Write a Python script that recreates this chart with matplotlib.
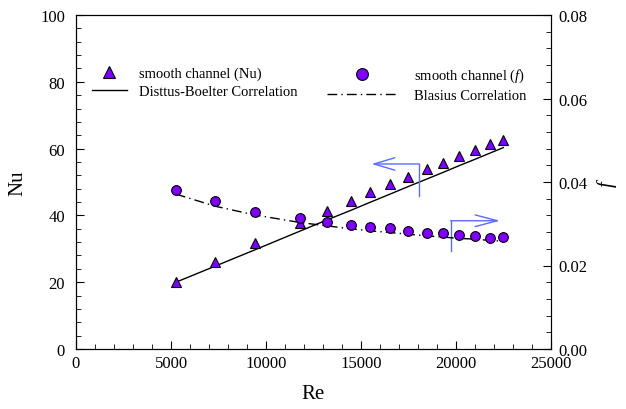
import matplotlib
matplotlib.use('Agg')
import matplotlib.pyplot as plt
from matplotlib.ticker import MultipleLocator, FormatStrFormatter
from matplotlib.lines import Line2D

plt.rcParams['font.family'] = ['Liberation Serif', 'DejaVu Serif']
plt.rcParams['mathtext.fontset'] = 'custom'
plt.rcParams['mathtext.rm'] = 'Liberation Serif'
plt.rcParams['mathtext.it'] = 'Liberation Serif:italic'

# data
re = [5260, 7320, 9420, 11790, 13190, 14460, 15470, 16540, 17470, 18470,
      19330, 20170, 21000, 21810, 22490]
nu_smooth = [20.1, 26.0, 31.7, 37.6, 41.3, 44.4, 46.9, 49.4, 51.6, 53.9,
             55.7, 57.7, 59.5, 61.3, 62.7]
f_smooth = [0.0382, 0.0354, 0.0329, 0.0314, 0.0305, 0.0298, 0.0293, 0.0289,
            0.0283, 0.0279, 0.0278, 0.0274, 0.0271, 0.0266, 0.0268]
nu_dittus = [20.0, 24.8, 29.7, 35.3, 38.6, 41.5, 43.9, 46.4, 48.6, 50.9,
             52.9, 54.9, 56.8, 58.7, 60.3]
f_blasius = [0.0371, 0.0342, 0.0321, 0.0303, 0.0295, 0.0288, 0.0283, 0.0279,
             0.0275, 0.0271, 0.0268, 0.0265, 0.0263, 0.0260, 0.0258]

purple = '#8000ff'
blue = '#5a6bff'

fig, ax = plt.subplots(figsize=(6.26, 4.10), dpi=100)
fig.subplots_adjust(left=76/626, right=551/626, top=1-16/410, bottom=1-350/410)
ax2 = ax.twinx()

ax.plot(re, nu_dittus, color='black', lw=1.0)
ax.plot(re, nu_smooth, ls='none', marker='^', ms=7, mfc=purple, mec='black', mew=0.8)
ax2.plot(re, f_blasius, color='black', lw=1.0, dashes=[7, 3, 1, 3])
ax2.plot(re, f_smooth, ls='none', marker='o', ms=7, mfc=purple, mec='black', mew=0.8)

ax.set_xlim(0, 25000)
ax.set_ylim(0, 100)
ax2.set_ylim(0, 0.08)

ax.xaxis.set_major_locator(MultipleLocator(5000))
ax.xaxis.set_minor_locator(MultipleLocator(1000))
ax.yaxis.set_major_locator(MultipleLocator(20))
ax.yaxis.set_minor_locator(MultipleLocator(4))
ax2.yaxis.set_major_locator(MultipleLocator(0.02))
ax2.yaxis.set_minor_locator(MultipleLocator(0.004))
ax2.yaxis.set_major_formatter(FormatStrFormatter('%.2f'))

ax.tick_params(axis='both', which='both', direction='in', labelsize=12)
ax.tick_params(axis='x', which='major', length=6, pad=4)
ax.tick_params(axis='x', which='minor', length=3.5)
ax.tick_params(axis='y', which='major', length=6, pad=8, right=False)
ax.tick_params(axis='y', which='minor', length=3.5, right=False)
ax2.tick_params(axis='y', which='both', direction='in', labelsize=12, pad=5)
ax2.tick_params(axis='y', which='major', length=6)
ax2.tick_params(axis='y', which='minor', length=3.5)

ax.set_xlabel('Re', fontsize=15, labelpad=10)
ax.set_ylabel('Nu', fontsize=15, labelpad=9)
ax2.set_ylabel('$f$', fontsize=15, labelpad=6)

# blue direction arrows
ax.plot([18050, 18050], [45.7, 55.4], color=blue, lw=1.0)
ax.annotate('', xy=(15560, 55.4), xytext=(18050, 55.4),
            arrowprops=dict(arrowstyle='->,head_length=1.5,head_width=0.45',
                            color=blue, lw=1.0, shrinkA=0, shrinkB=0))
ax.plot([19720, 19720], [29.4, 38.4], color=blue, lw=1.0)
ax.annotate('', xy=(22320, 38.4), xytext=(19720, 38.4),
            arrowprops=dict(arrowstyle='->,head_length=1.6,head_width=0.42',
                            color=blue, lw=1.0, shrinkA=0, shrinkB=0))

# legends
h1 = [Line2D([], [], ls='none', marker='^', ms=8.5, mfc=purple, mec='black', mew=0.8),
      Line2D([], [], color='black', lw=1.0)]
l1 = ['smooth channel (Nu)', 'Disttus-Boelter Correlation']
h2 = [Line2D([], [], ls='none', marker='o', ms=8.5, mfc=purple, mec='black', mew=0.8),
      Line2D([], [], color='black', lw=1.0, dashes=[7, 3, 1, 3])]
l2 = ['smooth channel ($f$)', 'Blasius Correlation']
ax.legend(h1, l1, loc='upper left', bbox_to_anchor=(0.006, 0.885),
          frameon=False, fontsize=10.5, handlelength=2.4,
          labelspacing=0.35, handletextpad=0.8)
ax2.legend(h2, l2, loc='upper left', bbox_to_anchor=(0.50, 0.885),
           frameon=False, fontsize=10.5, handlelength=4.8,
           labelspacing=0.35, handletextpad=1.2)

fig.savefig('out.png', dpi=100)
